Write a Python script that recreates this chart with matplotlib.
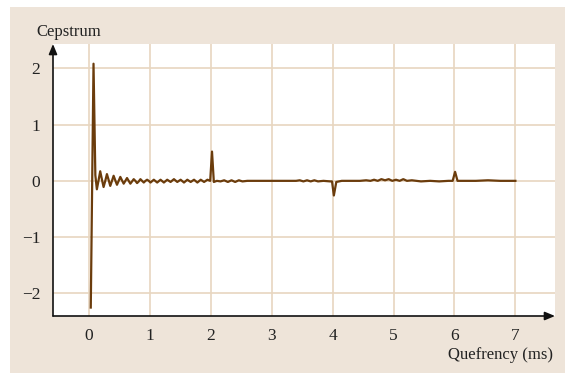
import matplotlib.pyplot as plt
from matplotlib.patches import Rectangle

plt.rcParams['font.family'] = ['Liberation Serif', 'DejaVu Serif']

# quefrency (ms) and cepstrum values
quefrency = [0.03, 0.075, 0.105, 0.13, 0.158, 0.185, 0.212, 0.24, 0.268, 0.295,
             0.322, 0.35, 0.378, 0.405, 0.432, 0.46, 0.488, 0.515, 0.542, 0.57,
             0.598, 0.625, 0.652, 0.68, 0.708, 0.735, 0.762, 0.79, 0.818, 0.845,
             0.872, 0.90, 0.928, 0.955, 0.982, 1.01, 1.065,
             1.12, 1.175, 1.23, 1.285, 1.34, 1.395, 1.45, 1.505, 1.56, 1.615,
             1.67, 1.725, 1.78, 1.835, 1.89, 1.945, 1.99, 2.02, 2.05, 2.10,
             2.16, 2.22, 2.28, 2.34, 2.40, 2.46, 2.52, 2.60, 2.80, 3.00,
             3.20, 3.40, 3.46, 3.52, 3.58, 3.64, 3.70, 3.76, 3.85, 3.96,
             3.99, 4.02, 4.06, 4.15, 4.30, 4.45, 4.55, 4.62, 4.68, 4.74,
             4.80, 4.86, 4.92, 4.98, 5.04, 5.10, 5.16, 5.22, 5.30, 5.45,
             5.60, 5.75, 5.90, 5.97, 6.01, 6.05, 6.15, 6.35, 6.55, 6.75,
             7.00]
cepstrum = [-2.25, 2.08, 0.10, -0.15, 0.01, 0.17, 0.03, -0.11, 0.00, 0.12,
            0.02, -0.09, 0.00, 0.09, 0.01, -0.07, 0.00, 0.07, 0.01, -0.05,
            0.00, 0.05, 0.00, -0.05, -0.01, 0.03, 0.00, -0.04, -0.01, 0.03,
            0.00, -0.03, 0.00, 0.02, 0.00, -0.03, 0.02,
            -0.03, 0.02, -0.03, 0.02, -0.02, 0.03, -0.02, 0.02, -0.03, 0.02,
            -0.02, 0.02, -0.03, 0.02, -0.02, 0.02, 0.00, 0.52, -0.02, 0.00,
            -0.01, 0.01, -0.02, 0.01, -0.02, 0.01, -0.01, 0.00, 0.00, 0.00,
            0.00, 0.00, 0.01, -0.01, 0.01, -0.01, 0.01, -0.01, 0.00, -0.01,
            -0.01, -0.26, -0.02, 0.00, 0.00, 0.00, 0.01, 0.00, 0.02, 0.00,
            0.03, 0.01, 0.03, 0.00, 0.02, 0.00, 0.03, 0.00, 0.01, -0.01,
            0.00, -0.01, 0.00, 0.00, 0.16, 0.00, 0.00, 0.00, 0.01, 0.00,
            0.00]

x_ticks = [0, 1, 2, 3, 4, 5, 6, 7]
y_ticks = [-2, -1, 0, 1, 2]

bg = '#eee4d9'
grid_col = '#e8d6c0'
line_col = '#6b3c0c'

fig = plt.figure(figsize=(5.65, 3.73), dpi=100, facecolor='white')
fig.patches.append(Rectangle((10 / 565, 0), 1, 366 / 373, transform=fig.transFigure,
                             facecolor=bg, edgecolor='none', zorder=-1))

ax = fig.add_axes([53 / 565, 57 / 373, 502 / 565, 272 / 373])
ax.set_facecolor('white')
ax.set_xlim(-0.59, 7.65)
ax.set_ylim(-2.40, 2.43)

ax.set_xticks(x_ticks)
ax.set_yticks(y_ticks)
ax.grid(True, color=grid_col, linewidth=1.2)
ax.set_axisbelow(True)
ax.tick_params(length=0, labelsize=12.5, pad=9, colors='#222222')
for s in ax.spines.values():
    s.set_visible(False)

ax.plot(quefrency, cepstrum, color=line_col, linewidth=1.6, zorder=3,
        solid_joinstyle='round')

# axis lines with arrows
ax.annotate('', xy=(1.0, 0), xytext=(0, 0), xycoords='axes fraction',
            arrowprops=dict(arrowstyle='-|>,head_length=0.6,head_width=0.25',
                            color='#111111', lw=1.2, shrinkA=0, shrinkB=0))
ax.annotate('', xy=(0, 1.0), xytext=(0, 0), xycoords='axes fraction',
            arrowprops=dict(arrowstyle='-|>,head_length=0.6,head_width=0.25',
                            color='#111111', lw=1.2, shrinkA=0, shrinkB=0))

fig.text(36 / 565, 1 - 32 / 373, 'Cepstrum', fontsize=12, va='center', ha='left',
         color='#222222')
fig.text(553 / 565, 1 - 355 / 373, 'Quefrency (ms)', fontsize=12, va='center',
         ha='right', color='#222222')

fig.savefig('out.png', dpi=100, facecolor=fig.get_facecolor())
